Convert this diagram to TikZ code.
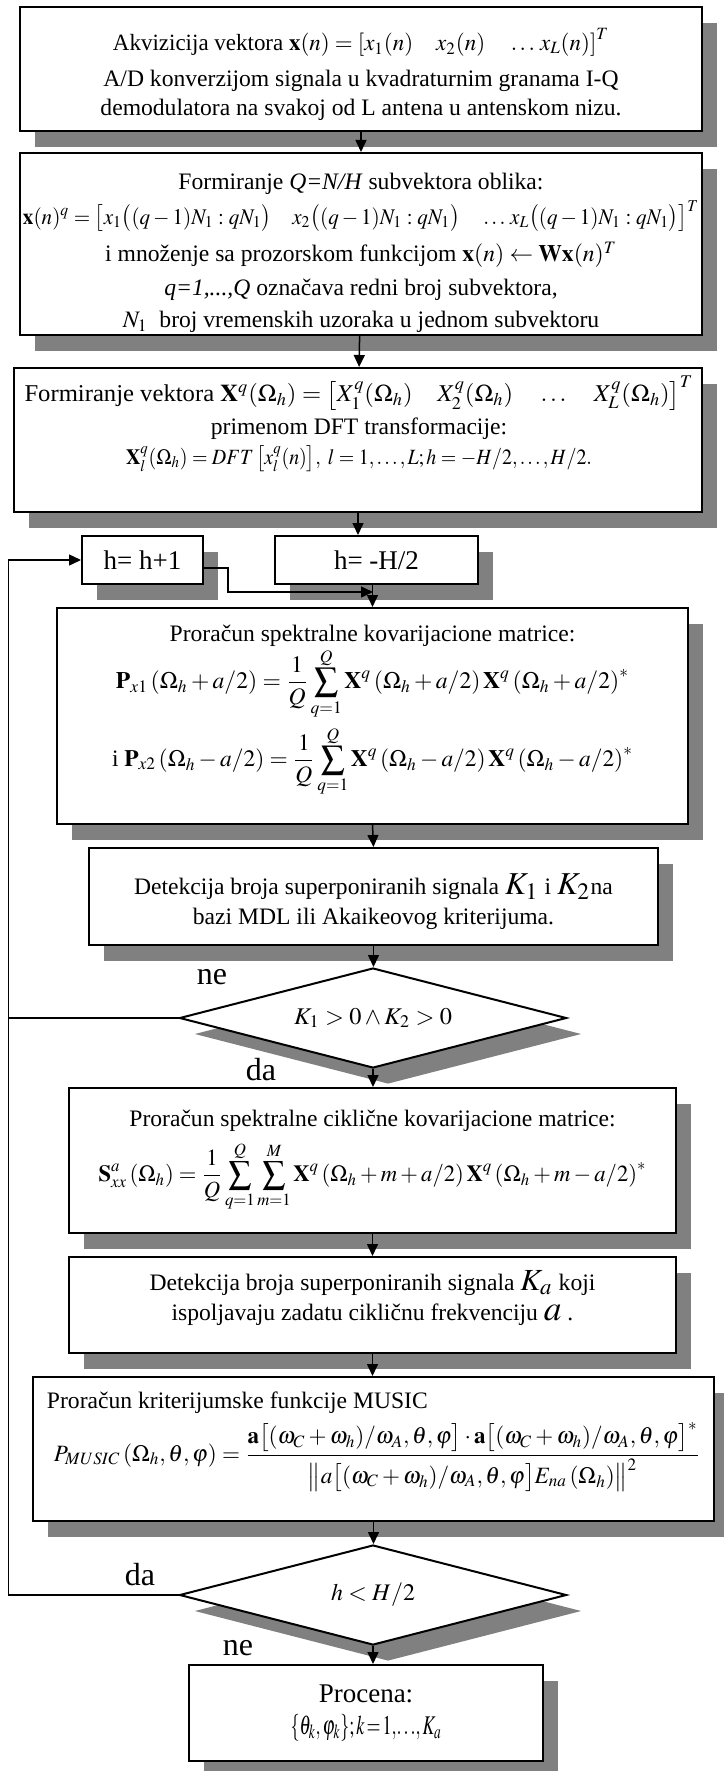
\documentclass[tikz,border=0pt]{standalone}
\usepackage{amsmath}
\usepackage{mathptmx}
\usepackage{fontspec}
\setmainfont{Liberation Serif}
\usepackage{graphicx}
\usetikzlibrary{shapes.geometric,arrows.meta,shadows,calc}

\definecolor{shadowgray}{RGB}{128,128,128}
\newcommand{\txtsz}{\fontsize{11.8}{14.5}\selectfont}
\newcommand{\bigsz}{\fontsize{13.5}{16}\selectfont}
\newcommand{\lblsz}{\fontsize{16}{18}\selectfont}
% fit a line to a given width; the height is scaled by the mean of 1 and the width factor
\newsavebox{\fitbox}
\newlength{\fitlen}
\newcommand{\fitw}[2]{%
  \sbox{\fitbox}{#2}\setlength{\fitlen}{\wd\fitbox}%
  \pgfmathsetmacro{\fitsx}{#1/\fitlen}%
  \pgfmathsetmacro{\fitsy}{(1+\fitsx)/2}%
  \scalebox{\fitsx}[\fitsy]{\usebox{\fitbox}}}
% fit a line to a given width, keeping its natural height
\newcommand{\fitx}[2]{%
  \sbox{\fitbox}{#2}\setlength{\fitlen}{\wd\fitbox}%
  \pgfmathsetmacro{\fitsx}{#1/\fitlen}%
  \scalebox{\fitsx}[1]{\usebox{\fitbox}}}

\begin{document}
\begin{tikzpicture}[x=0.5pt,y=-0.5pt,
  shade/.style={drop shadow={shadow xshift=7.5pt,shadow yshift=-8pt,fill=shadowgray,opacity=1}},
  box/.style={draw,line width=1pt,fill=white,inner sep=0pt,shade},
  txt/.style={align=center,font=\txtsz,inner sep=0pt},
  dia/.style={diamond,aspect=3.87,draw,line width=1pt,fill=white,inner sep=0pt,font=\txtsz,shade},
  conn/.style={line width=0.75pt,-{Triangle[length=6pt,width=5.5pt]}},
  wire/.style={line width=0.75pt},
  lbl/.style={font=\lblsz,inner sep=0pt}]

\useasboundingbox (0,0) rectangle (723,1771);

% ---------- boxes ----------
\node[box,minimum width=341pt,minimum height=62pt] (b1) at (361,69) {};
\node[box,minimum width=341pt,minimum height=91pt] (b2) at (361,244) {};
\node[box,minimum width=344pt,minimum height=72pt] (b3) at (358,440) {};
\node[box,font=\bigsz,minimum width=60.5pt,minimum height=24pt] (hplus) at (142.5,560) {h= h+1};
\node[box,font=\bigsz,minimum width=101.5pt,minimum height=24pt] (hinit) at (376.5,560) {h= -H/2};
\node[box,minimum width=315.5pt,minimum height=108pt] (P) at (372.5,716) {};
\node[box,minimum width=284.5pt,minimum height=48.5pt] (det) at (373.5,896.5) {};
\node[dia,minimum width=193.5pt,minimum height=50pt] (d1) at (373,1018)
  {\fitw{79pt}{$K_1>0\wedge K_2>0$}};
\node[box,minimum width=303.5pt,minimum height=72.5pt] (S) at (372.5,1160.5) {};
\node[box,minimum width=303.5pt,minimum height=48pt] (Ka) at (372.5,1305) {};
\node[box,minimum width=340.5pt,minimum height=72pt] (M) at (373.5,1449) {};
\node[dia,minimum width=193.5pt,minimum height=50pt] (d2) at (373,1595)
  {\fitw{42pt}{$h<H/2$}};
\node[box,minimum width=177pt,minimum height=48pt] (proc) at (366,1713) {};

% ---------- box texts ----------
\node[txt] (b1t) at (361,74.5)
  {\fitw{248pt}{Akvizicija vektora $\mathbf{x}(n)=\left[x_1(n)\quad x_2(n)\quad \ldots\, x_L(n)\right]^T$}\\[3.4pt]
   A/D konverzijom signala u kvadraturnim granama I-Q\\[0.1pt]
   demodulatora na svakoj od L antena u antenskom nizu.};

\node[txt] (b2t) at (361,253)
  {Formiranje \textit{Q=N/H} subvektora oblika:\\[2.8pt]
   \fitw{338pt}{$\mathbf{x}(n)^q=\left[x_1\bigl((q-1)N_1:qN_1\bigr)\quad x_2\bigl((q-1)N_1:qN_1\bigr)\quad \ldots\, x_L\bigl((q-1)N_1:qN_1\bigr)\right]^T$}\\[4.4pt]
   i množenje sa prozorskom funkcijom $\mathbf{x}(n)\leftarrow\mathbf{Wx}(n)^T$\\[2.4pt]
   \textit{q=1,...,Q} označava redni broj subvektora,\\[1.6pt]
   $N_1$\ \ broj vremenskih uzoraka u jednom subvektoru};

\node[txt] (b3t) at (359,424.2)
  {\fitw{334.5pt}{Formiranje vektora $\mathbf{X}^q(\Omega_h)=\left[X_1^q(\Omega_h)\quad X_2^q(\Omega_h)\quad \ldots\quad X_L^q(\Omega_h)\right]^T$}\\[1.8pt]
   primenom DFT transformacije:\\[0.6pt]
   \fitw{233pt}{$\mathbf{X}_l^q(\Omega_h)=DFT\left[x_l^q(n)\right]\!,\ l=1,\ldots,L;h=-H/2,\ldots,H/2.$}};

\node[txt] (Pt) at (372.5,711)
  {Proračun spektralne kovarijacione matrice:\\[-0.3pt]
   \fitw{256.5pt}{$\displaystyle\mathbf{P}_{x1}\left(\Omega_h+a/2\right)=\frac{1}{Q}\sum_{q=1}^{Q}\mathbf{X}^q\left(\Omega_h+a/2\right)\mathbf{X}^q\left(\Omega_h+a/2\right)^*$}\\[2.5pt]
   \fitw{260.5pt}{i $\displaystyle\mathbf{P}_{x2}\left(\Omega_h-a/2\right)=\frac{1}{Q}\sum_{q=1}^{Q}\mathbf{X}^q\left(\Omega_h-a/2\right)\mathbf{X}^q\left(\Omega_h-a/2\right)^*$}};

\node[txt] (dett) at (373.5,902)
  {Detekcija broja superponiranih signala \scalebox{1.35}{$K_1$} i \scalebox{1.35}{$K_2$}na\\[0.6pt]
   bazi MDL ili Akaikeovog kriterijuma.};

\node[txt] (St) at (372.5,1160.5)
  {Proračun spektralne ciklične kovarijacione matrice:\\[4.3pt]
   \fitw{274pt}{$\displaystyle\mathbf{S}_{xx}^a\left(\Omega_h\right)=\frac{1}{Q}\sum_{q=1}^{Q}\sum_{m=1}^{M}\mathbf{X}^q\left(\Omega_h+m+a/2\right)\mathbf{X}^q\left(\Omega_h+m-a/2\right)^*$}};

\node[txt] (Kat) at (372.5,1298)
  {Detekcija broja superponiranih signala \scalebox{1.3}{$K_a$} koji\\[0.6pt]
   ispoljavaju zadatu cikličnu frekvenciju \scalebox{1.5}{$a$} .};

\node[txt,align=left] (Mt) at (373.5,1441.6)
  {Proračun kriterijumske funkcije MUSIC\\[3.5pt]
   \hspace*{3.5pt}\fitw{323pt}{$\displaystyle P_{MUSIC}\left(\Omega_h,\theta,\varphi\right)=\frac{\mathbf{a}\bigl[(\omega_C+\omega_h)/\omega_A,\theta,\varphi\bigr]\cdot\mathbf{a}\bigl[(\omega_C+\omega_h)/\omega_A,\theta,\varphi\bigr]^*}{\bigl\|a\bigl[(\omega_C+\omega_h)/\omega_A,\theta,\varphi\bigr]E_{na}\left(\Omega_h\right)\bigr\|^2}$}};

\node[txt,font=\bigsz] (proct) at (366,1713)
  {Procena:\\ \fitx{75.5pt}{$\{\theta_k,\varphi_k\};k\!=\!1,\!\ldots\!,K_a$}};

% ---------- branch labels ----------
\node[lbl] (ne1) at (212,977) {ne};
\node[lbl] (da1) at (261,1070) {da};
\node[lbl] (da2) at (140,1575) {da};
\node[lbl] (ne2) at (238,1648) {ne};

% ---------- loop-back rail ----------
\coordinate (lt) at (8.4,560);
\coordinate (lb) at (8.4,1595);
\coordinate (jn) at (373,592);

% ---------- connectors ----------
\draw[conn] (b1) -- (b2);
\draw[conn] (b2) -- (b3);
\draw[conn] (b3.south) -- (b3.south |- hinit.north);
\draw[conn] (P.north |- hinit.south) -- (P.north);
\draw[conn] ([yshift=-4pt]hplus.east) -- ++(24,0) |- (jn);
\draw[conn] (P.south) -- (det.north);
\draw[conn] (det.south) -- (det.south |- d1.north);
\draw[conn] (d1.south) -- (d1.south |- S.north);
\draw[wire] (d1.west) -- (d1.west -| lt);
\draw[conn] (S.south) -- (S.south |- Ka.north);
\draw[conn] (Ka.south) -- (Ka.south |- M.north);
\draw[conn] (M.south) -- (M.south |- d2.north);
\draw[conn] (d2.west) -- (lb) -- (lt) -- (hplus.west);
\draw[conn] (d2.south) -- (d2.south |- proc.north);
\end{tikzpicture}
\end{document}
